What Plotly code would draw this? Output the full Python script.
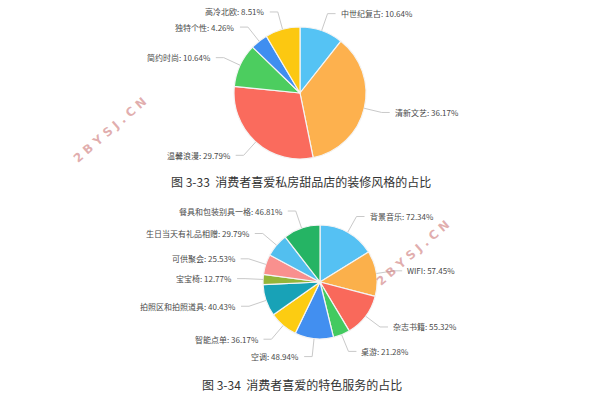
import math
import plotly.graph_objects as go

W, H = 600, 400

# ---- data ----
style_labels = ["中世纪复古", "清新文艺", "温馨浪漫", "简约时尚", "独特个性", "高冷北欧"]
style_values = [10.64, 36.17, 29.79, 10.64, 4.26, 8.51]

service_labels = ["背景音乐", "WIFI", "杂志书籍", "桌游", "空调", "智能点单",
                  "拍照区和拍照道具", "宝宝椅", "可供聚会", "生日当天有礼品相赠", "餐具和包装别具一格"]
service_values = [72.34, 57.45, 55.32, 21.28, 48.94, 36.17, 40.43, 12.77, 25.53, 29.79, 46.81]

captions = ["图 3-33  消费者喜爱私房甜品店的装修风格的占比", "图 3-34  消费者喜爱的特色服务的占比"]

# ---- styles ----
style_colors = ["#55c3f4", "#fdb14e", "#fa6b5d", "#4ccd5f", "#3f8ef0", "#fcc811"]
service_colors = ["#55c1f3", "#fbb04b", "#f9695b", "#43ca60", "#428ff0", "#fccc12",
                  "#18a2b7", "#93b53a", "#f9908e", "#52bfef", "#25b464"]
CJK = "Noto Sans CJK SC"

fig = go.Figure()


def add_pie(labels, values, colors, cx, cy, r):
    dom_x = [(cx - r) / W, (cx + r) / W]
    dom_y = [1 - (cy + r) / H, 1 - (cy - r) / H]
    fig.add_trace(go.Pie(
        labels=labels, values=values, sort=False, direction="clockwise",
        rotation=0, domain=dict(x=dom_x, y=dom_y),
        marker=dict(colors=colors, line=dict(color="#f4f4f4", width=1.2)),
        textinfo="none", hoverinfo="label+value", showlegend=False,
    ))
    total = sum(values)
    cum = 0.0
    for lab, v in zip(labels, values):
        mid = (cum + v / 2) / total * 2 * math.pi
        cum += v
        s, c = math.sin(mid), math.cos(mid)
        x0, y0 = cx + r * s, cy - r * c
        x1, y1 = cx + (r + 18) * s, cy - (r + 18) * c
        side = 1 if s >= 0 else -1
        x2 = x1 + side * 8
        path = f"M {x0 / W},{1 - y0 / H} L {x1 / W},{1 - y1 / H} L {x2 / W},{1 - y1 / H}"
        fig.add_shape(type="path", xref="paper", yref="paper", path=path,
                      line=dict(color="#c9c9c9", width=1))
        fig.add_annotation(
            x=(x2 + side * 3) / W, y=1 - y1 / H, xref="paper", yref="paper",
            text=f"{lab}: {v:.2f}%", showarrow=False,
            xanchor="left" if side > 0 else "right", yanchor="middle",
            font=dict(family=CJK, size=8, color="#4a4a4a"),
        )


add_pie(style_labels, style_values, style_colors, 300, 93, 66)
add_pie(service_labels, service_values, service_colors, 320, 282, 57)

# captions
fig.add_annotation(x=301 / W, y=1 - 181 / H, xref="paper", yref="paper",
                   text=captions[0], showarrow=False, xanchor="center", yanchor="middle",
                   font=dict(family=CJK, size=12, color="#333333"))
fig.add_annotation(x=302 / W, y=1 - 384 / H, xref="paper", yref="paper",
                   text=captions[1], showarrow=False, xanchor="center", yanchor="middle",
                   font=dict(family=CJK, size=12, color="#333333"))

# watermarks
for wx, wy in [(110, 130), (413, 253)]:
    fig.add_annotation(x=wx / W, y=1 - wy / H, xref="paper", yref="paper",
                       text="<b>2 B Y S J . C N</b>", showarrow=False, textangle=-41,
                       xanchor="center", yanchor="middle",
                       font=dict(family="DejaVu Sans", size=12, color="rgba(205,120,120,0.6)"))

fig.update_layout(
    width=W, height=H, margin=dict(l=0, r=0, t=0, b=0),
    paper_bgcolor="white", plot_bgcolor="white",
)

fig.write_html("out.html", config={"displayModeBar": False},
               post_script="document.body.style.margin='0';")
